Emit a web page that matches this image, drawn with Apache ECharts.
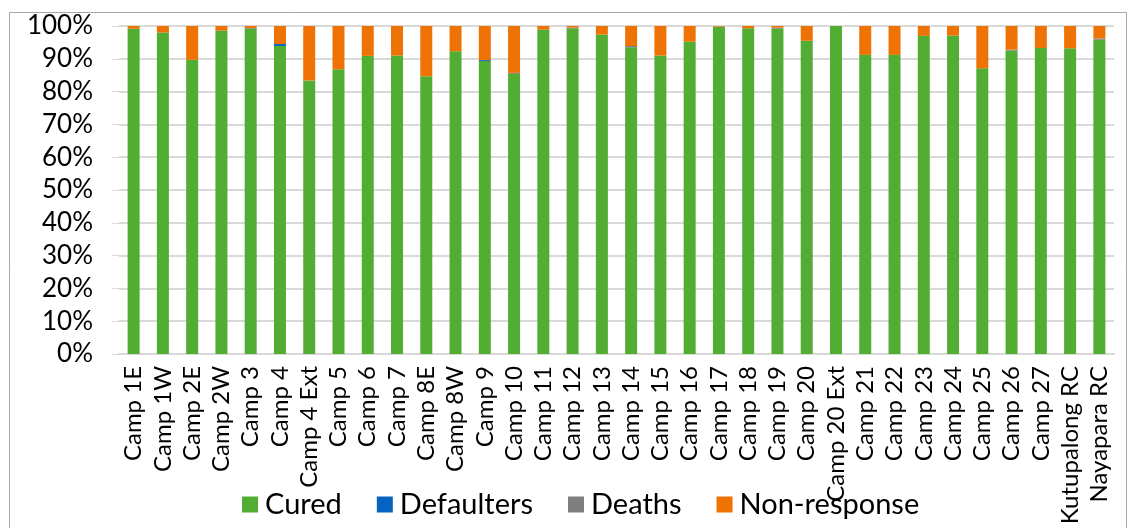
<!DOCTYPE html>
<html>
<head>
<meta charset="utf-8">
<script src="https://cdn.jsdelivr.net/npm/echarts@6/dist/echarts.min.js"></script>
<style>
  html, body { margin: 0; padding: 0; background: #fff; }
  #chart { width: 1131px; height: 528px; }
</style>
</head>
<body>
<div id="chart"></div>
<script>
// categories (camps)
var camps = ['Camp 1E', 'Camp 1W', 'Camp 2E', 'Camp 2W', 'Camp 3', 'Camp 4', 'Camp 4 Ext', 'Camp 5',
  'Camp 6', 'Camp 7', 'Camp 8E', 'Camp 8W', 'Camp 9', 'Camp 10', 'Camp 11', 'Camp 12', 'Camp 13',
  'Camp 14', 'Camp 15', 'Camp 16', 'Camp 17', 'Camp 18', 'Camp 19', 'Camp 20', 'Camp 20 Ext',
  'Camp 21', 'Camp 22', 'Camp 23', 'Camp 24', 'Camp 25', 'Camp 26', 'Camp 27', 'Kutupalong RC', 'Nayapara RC']

// percentages
var cured = [99.2, 98.0, 89.7, 98.6, 99.2, 93.9, 83.4, 86.8, 90.9, 91.0, 84.7, 92.3, 89.3, 85.4, 98.9,
  99.3, 97.4, 93.5, 91.0, 95.2, 99.8, 99.3, 99.2, 95.5, 100, 91.2, 91.2, 97.0, 97.1, 87.1, 92.5,
  93.3, 93.2, 95.8]
var defaulters = [0, 0, 0, 0, 0, 0.6, 0, 0, 0, 0, 0, 0, 0.3, 0, 0,
  0, 0, 0, 0, 0, 0, 0, 0, 0, 0, 0, 0, 0, 0, 0, 0,
  0, 0, 0]
var deaths = [0, 0, 0, 0, 0.2, 0, 0, 0, 0, 0, 0, 0, 0, 0.3, 0,
  0.2, 0, 0.4, 0, 0, 0, 0, 0.3, 0, 0, 0, 0, 0, 0, 0, 0.3,
  0, 0, 0.4]
var nonResponse = [0.8, 2.0, 10.3, 1.4, 0.6, 5.5, 16.6, 13.2, 9.1, 9.0, 15.3, 7.7, 10.4, 14.3, 1.1,
  0.5, 2.6, 6.1, 9.0, 4.8, 0.2, 0.7, 0.5, 4.5, 0, 8.8, 8.8, 3.0, 2.9, 12.9, 7.2,
  6.7, 6.8, 3.8]

var yTicks = { min: 0, max: 100, interval: 10 }

var myChart = echarts.init(document.getElementById('chart'))

function barSeries (name, color, data) {
  return {
    name: name,
    type: 'bar',
    stack: 'total',
    barWidth: 12,
    itemStyle: { color: color },
    emphasis: { disabled: true },
    data: data
  }
}

myChart.setOption({
  animation: false,
  textStyle: { fontFamily: 'Lato' },
  graphic: [{
    type: 'rect',
    left: 7,
    top: 10,
    shape: { width: 1117, height: 530 },
    style: { fill: 'none', stroke: '#a6a6a6', lineWidth: 1 },
    silent: true
  }],
  legend: {
    bottom: 4,
    left: 237,
    itemWidth: 16,
    itemHeight: 16,
    itemGap: 35,
    icon: 'rect',
    textStyle: { fontSize: 29, color: '#000', fontFamily: 'Lato', padding: [0, 0, 0, 2] },
    data: ['Cured', 'Defaulters', 'Deaths', 'Non-response']
  },
  grid: {
    left: 119,
    right: 17,
    top: 26,
    bottom: 174
  },
  xAxis: {
    type: 'category',
    data: camps,
    axisLine: { lineStyle: { color: '#d9d9d9', width: 2 } },
    axisTick: { show: false },
    axisLabel: {
      rotate: 90,
      interval: 0,
      fontSize: 24,
      color: '#000',
      margin: 12
    }
  },
  yAxis: {
    type: 'value',
    min: yTicks.min,
    max: yTicks.max,
    interval: yTicks.interval,
    axisLine: { show: false },
    axisTick: { show: true, length: 7, lineStyle: { color: '#d9d9d9', width: 1 } },
    axisLabel: {
      formatter: '{value}%',
      fontSize: 26,
      color: '#000',
      margin: 26
    },
    splitLine: { lineStyle: { color: '#d9d9d9', width: 2 } }
  },
  series: [
    barSeries('Cured', '#52ad33', cured),
    barSeries('Defaulters', '#0563c1', defaulters),
    barSeries('Deaths', '#7f7f7f', deaths),
    barSeries('Non-response', '#ef7204', nonResponse)
  ]
})
</script>
</body>
</html>
